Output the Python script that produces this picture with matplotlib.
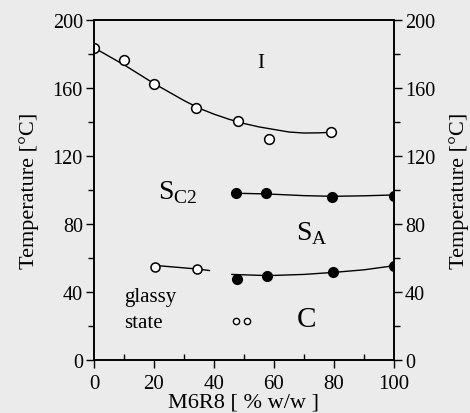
import matplotlib
matplotlib.use("Agg")
import matplotlib.pyplot as plt

plt.rcParams['font.family'] = ['Liberation Serif', 'DejaVu Serif']

# Clearing points (I -> S_C2), open circles
clear_x = [0, 10, 20, 34, 48, 58.5, 79]
clear_T = [183.5, 176.5, 162, 148, 140.5, 130, 134]
# Drawn curve through clearing points
clear_line_x = [0, 5, 10, 15, 20, 25, 30, 35, 40, 45, 50, 55, 60, 65, 70, 75, 79]
clear_line_T = [183.5, 178.5, 173.5, 168, 162.5, 157.5, 152.5, 148, 144.5, 141.5, 139, 137, 135.5, 134, 133.4, 133.5, 133.8]

# S_C2 / S_A transition, filled circles
sc2_x = [47.5, 57.5, 79.5, 100]
sc2_T = [98, 98, 95.6, 96.6]
sc2_line_x = [47.5, 57.5, 70, 79.5, 90, 100]
sc2_line_T = [98, 97.6, 96.6, 96.2, 96.5, 97]

# Low-temperature transitions, open circles
low_open_x = [20.3, 34.3]
low_open_T = [54.8, 53.5]
low_open_line_x = [20.3, 34.3, 38.5]
low_open_line_T = [55.6, 53.5, 52.6]

# S_A / C transition, filled circles
sac_x = [47.6, 57.8, 79.7, 100]
sac_T = [47.6, 49.6, 51.5, 55.4]
sac_line_x = [46, 58, 70, 80, 90, 100]
sac_line_T = [50.3, 49.6, 50.3, 51.5, 53, 55.4]

# Glassy state points
glass_x = [47.4, 51]
glass_T = [23, 23]

x_ticks = [0, 20, 40, 60, 80, 100]
y_ticks = [0, 40, 80, 120, 160, 200]

bg = '#ebebeb'
fig = plt.figure(figsize=(4.70, 4.14), dpi=100, facecolor=bg)
ax = fig.add_axes([0.2, 0.128, 0.638, 0.822], facecolor=bg)

lw = 1.0
ax.plot(clear_line_x, clear_line_T, color='black', lw=lw)
ax.plot(clear_x, clear_T, 'o', ms=7, mfc='white', mec='black', mew=1.1, ls='none')
ax.plot(sc2_line_x, sc2_line_T, color='black', lw=lw)
ax.plot(sc2_x, sc2_T, 'o', ms=7, mfc='black', mec='black', ls='none')
ax.plot(low_open_line_x, low_open_line_T, color='black', lw=lw)
ax.plot(low_open_x, low_open_T, 'o', ms=6.5, mfc='white', mec='black', mew=1.1, ls='none')
ax.plot(sac_line_x, sac_line_T, color='black', lw=lw)
ax.plot(sac_x, sac_T, 'o', ms=7, mfc='black', mec='black', ls='none')
ax.plot(glass_x, glass_T, 'o', ms=4.5, mfc='white', mec='black', mew=1.0, ls='none')

ax.set_xlim(0, 100)
ax.set_ylim(0, 200)
ax.set_xticks(x_ticks)
ax.set_xticks([10, 30, 50, 70, 90], minor=True)
ax.set_yticks(y_ticks)
ax.set_yticks([20, 60, 100, 140, 180], minor=True)
ax.tick_params(axis='x', which='major', direction='out', length=6, width=1, labelsize=15, pad=4)
ax.tick_params(axis='x', which='minor', direction='in', length=4, width=1)
ax.tick_params(axis='y', which='major', direction='out', length=6, width=1, labelsize=14.5, pad=2)
ax.tick_params(axis='y', which='minor', direction='out', length=4, width=1)
for s in ax.spines.values():
    s.set_linewidth(1.2)

ax2 = ax.twinx()
ax2.set_ylim(0, 200)
ax2.set_yticks(y_ticks)
ax2.set_yticks([20, 60, 100, 140, 180], minor=True)
ax2.tick_params(axis='y', which='major', direction='out', length=6, width=1, labelsize=14.5, pad=2)
ax2.tick_params(axis='y', which='minor', direction='out', length=4, width=1)
for s in ax2.spines.values():
    s.set_linewidth(1.2)

ax.set_xlabel('M6R8 [ % w/w ]', fontsize=16, labelpad=0)
ax.set_ylabel('Temperature [°C]', fontsize=16, labelpad=10)
ax2.set_ylabel('Temperature [°C]', fontsize=16, labelpad=10)

ax.text(55.7, 175, 'I', fontsize=15, ha='center', va='center')
ax.text(28, 99, r'S$_{\mathregular{C2}}$', fontsize=20, ha='center', va='center')
ax.text(72.5, 75, r'S$_{\mathregular{A}}$', fontsize=20, ha='center', va='center')
ax.text(10, 37.5, 'glassy', fontsize=15, ha='left', va='center')
ax.text(10, 22, 'state', fontsize=15, ha='left', va='center')
ax.text(71, 24, 'C', fontsize=21, ha='center', va='center')

fig.savefig('out.png', dpi=100, facecolor=bg)
